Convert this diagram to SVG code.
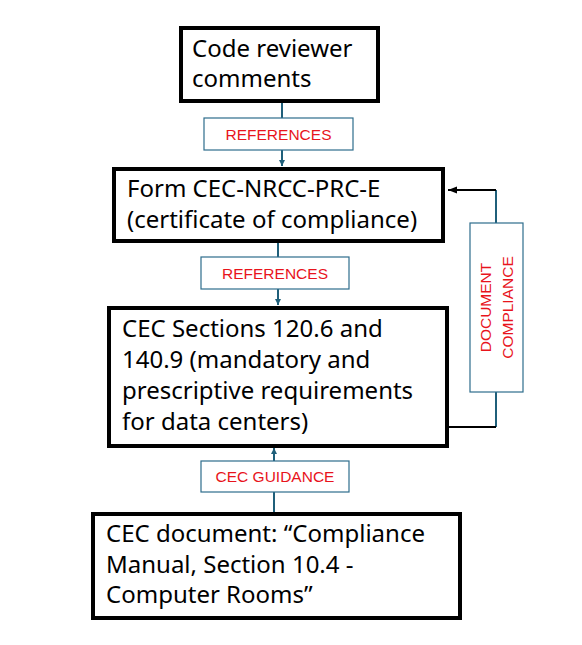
<svg xmlns="http://www.w3.org/2000/svg" width="582" height="645" viewBox="0 0 582 645">
<defs>
<style>
.box{fill:#fff;stroke:#000;stroke-width:4}
.lbl{fill:#fff;stroke:#2e6d8c;stroke-width:1.2}
.t{font-family:"Noto Sans","Liberation Sans",sans-serif;font-size:24px;fill:#000}
.r{font-family:"Liberation Sans",Arial,sans-serif;font-size:15.5px;fill:#e8141c}
.c{fill:none;stroke:#1f5f7a;stroke-width:2}
.k{fill:none;stroke:#000;stroke-width:2}
</style>
<marker id="ab" viewBox="0 0 10 10" refX="10" refY="5" markerWidth="6" markerHeight="6" orient="auto" markerUnits="userSpaceOnUse">
<path d="M0,0 L10,5 L0,10 z" fill="#1f5f7a"/>
</marker>
<marker id="ak" viewBox="0 0 10 10" refX="10" refY="5" markerWidth="9" markerHeight="9" orient="auto" markerUnits="userSpaceOnUse">
<path d="M0,1 L10,5 L0,9 z" fill="#000"/>
</marker>
</defs>
<rect width="582" height="645" fill="#fff"/>
<g id="connectors">
<line class="c" x1="282" y1="103" x2="282" y2="166" marker-end="url(#ab)"/>
<line class="c" x1="278" y1="243" x2="278" y2="305" marker-end="url(#ab)"/>
<line class="c" x1="274" y1="512" x2="274" y2="448" marker-end="url(#ab)"/>
<polyline class="c" points="496,427 496,190"/>
<line class="k" x1="448" y1="427" x2="496" y2="427"/>
<line class="k" x1="496" y1="190" x2="448" y2="190" marker-end="url(#ak)"/>
</g>
<g id="lbl-references-1">
<rect class="lbl" x="204" y="118" width="149" height="32"/>
<text class="r" x="278.5" y="139.5" text-anchor="middle">REFERENCES</text>
</g>
<g id="lbl-references-2">
<rect class="lbl" x="201" y="257" width="148" height="32"/>
<text class="r" x="275" y="278.5" text-anchor="middle">REFERENCES</text>
</g>
<g id="lbl-guidance">
<rect class="lbl" x="201" y="461" width="148" height="31"/>
<text class="r" x="275" y="482" text-anchor="middle">CEC GUIDANCE</text>
</g>
<g id="lbl-compliance">
<rect class="lbl" x="470" y="223" width="53" height="169"/>
<text class="r" transform="translate(491,307.5) rotate(-90)" text-anchor="middle">DOCUMENT</text>
<text class="r" transform="translate(513,307.5) rotate(-90)" text-anchor="middle">COMPLIANCE</text>
</g>
<g id="node-reviewer">
<rect class="box" x="181" y="28" width="197" height="73"/>
<text class="t" x="192" y="57">Code reviewer</text>
<text class="t" x="192" y="87">comments</text>
</g>
<g id="node-form">
<rect class="box" x="114" y="169" width="329" height="72"/>
<text class="t" x="127" y="197">Form CEC-NRCC-PRC-E</text>
<text class="t" x="127" y="228">(certificate of compliance)</text>
</g>
<g id="node-sections">
<rect class="box" x="109" y="308" width="338" height="138"/>
<text class="t" x="122" y="337">CEC Sections 120.6 and</text>
<text class="t" x="122" y="368">140.9 (mandatory and</text>
<text class="t" x="122" y="399">prescriptive requirements</text>
<text class="t" x="122" y="430">for data centers)</text>
</g>
<g id="node-manual">
<rect class="box" x="93" y="514" width="367" height="104"/>
<text class="t" x="106" y="542">CEC document: “Compliance</text>
<text class="t" x="106" y="573">Manual, Section 10.4 -</text>
<text class="t" x="106" y="603">Computer Rooms”</text>
</g>
</svg>
